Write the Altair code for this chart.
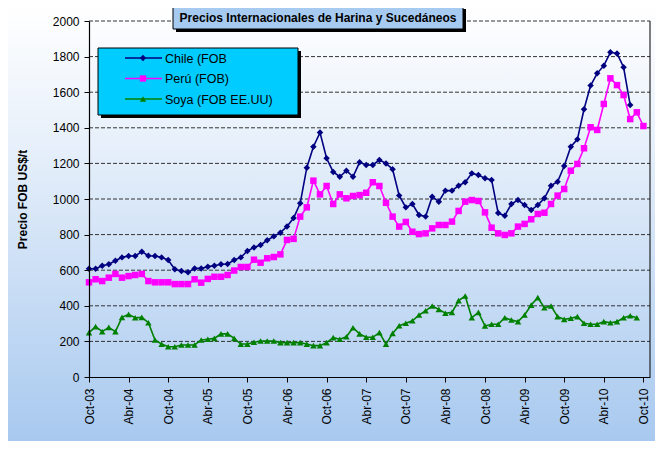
import altair as alt
import pandas as pd

# ---------------- data ----------------
tick_labels = ["Oct-03", "Abr-04", "Oct-04", "Abr-05", "Oct-05", "Abr-06", "Oct-06",
               "Abr-07", "Oct-07", "Abr-08", "Oct-08", "Abr-09", "Oct-09", "Abr-10", "Oct-10"]

series_names = ["Chile (FOB", "Perú (FOB)", "Soya (FOB EE.UU)"]
series_colors = ["#000080", "#ff00ff", "#008000"]
series_shapes = ["diamond", "square", "triangle-up"]

chile = [608, 608, 625, 633, 653, 672, 680, 680, 704, 681, 680, 672, 657, 605, 595, 588,
         610, 610, 620, 625, 633, 635, 657, 672, 708, 728, 742, 768, 790, 811, 846, 893,
         976, 1176, 1294, 1373, 1229, 1152, 1125, 1159, 1125, 1206, 1191, 1191, 1219, 1200,
         1167, 1019, 953, 972, 910, 901, 1013, 985, 1047, 1047, 1075, 1094, 1144, 1135,
         1116, 1107, 921, 906, 972, 994, 966, 938, 966, 1004, 1075, 1097, 1185, 1294, 1335,
         1504, 1637, 1706, 1749, 1824, 1818, 1740, 1528]

peru = [532, 549, 539, 558, 579, 558, 567, 573, 579, 539, 532, 532, 532, 522, 522, 522,
        549, 530, 551, 563, 563, 573, 598, 618, 618, 659, 642, 667, 674, 689, 770, 776,
        901, 953, 1103, 1026, 1073, 972, 1026, 1004, 1017, 1022, 1035, 1094, 1073, 979,
        901, 845, 871, 816, 803, 807, 835, 854, 854, 873, 933, 985, 994, 989, 925, 839,
        807, 798, 807, 845, 860, 886, 916, 923, 972, 1019, 1056, 1159, 1197, 1285, 1403,
        1388, 1534, 1678, 1640, 1584, 1449, 1487, 1410]

soya = [249, 283, 255, 279, 255, 335, 352, 333, 335, 305, 208, 185, 170, 170, 180, 180,
        180, 208, 212, 217, 242, 242, 217, 185, 185, 195, 202, 202, 202, 193, 193, 193,
        193, 185, 176, 176, 193, 221, 212, 226, 277, 242, 223, 223, 249, 184, 245, 288,
        302, 316, 348, 372, 399, 380, 358, 363, 429, 455, 333, 363, 287, 296, 296, 333,
        320, 311, 348, 404, 446, 389, 399, 339, 324, 330, 339, 302, 296, 296, 311, 305,
        311, 333, 344, 333]

y_ticks = list(range(0, 2001, 200))
title_text = "Precios Internacionales de Harina y Sucedáneos"

rows = []
for name, vals in zip(series_names, [chile, peru, soya]):
    for i, v in enumerate(vals):
        rows.append({"serie": name, "mes": i, "precio": v})
df = pd.DataFrame(rows)

# ---------------- layout ----------------
FONT = "Liberation Sans"
W, H = 561, 356
PAD = {"left": 81, "top": 13, "right": 5, "bottom": 64}

label_js = "[" + ",".join("'" + t + "'" for t in tick_labels) + "]"

x_axis = alt.Axis(values=list(range(0, 85, 6)),
                  labelExpr=label_js + "[round(datum.value/6)]",
                  labelAngle=270, labelPadding=6, tickSize=5,
                  labelOverlap=False,
                  title=None, grid=False, zindex=1)
y_axis = alt.Axis(values=y_ticks, format="d", grid=False, tickSize=5,
                  labelPadding=5, zindex=1, labelOverlap=False,
                  title="Precio FOB US$/t", titleX=-67, titleY=H / 2,
                  titleAngle=270, titleAlign="center",
                  titleBaseline="middle", titleFontWeight="bold",
                  titleFontSize=12)
y_scale = alt.Scale(domain=[0, 2000], nice=False)

x_enc = alt.X("mes:Q", scale=alt.Scale(domain=[0, 85], nice=False, zero=False), axis=x_axis)
y_enc = alt.Y("precio:Q", scale=y_scale, axis=y_axis)
color_enc = alt.Color("serie:N",
                      scale=alt.Scale(domain=series_names, range=series_colors),
                      legend=None)
shape_enc = alt.Shape("serie:N",
                      scale=alt.Scale(domain=series_names, range=series_shapes),
                      legend=None)

one = pd.DataFrame({"a": [0]})

background = alt.Chart(one).mark_rect(
    fill=alt.LinearGradient(gradient="linear",
                            stops=[alt.GradientStop(color="#ffffff", offset=0),
                                   alt.GradientStop(color="#e4eefa", offset=0.35),
                                   alt.GradientStop(color="#a8c9ef", offset=1)],
                            x1=0, x2=0, y1=0, y2=1),
    stroke=None
).encode(x=alt.value(-PAD["left"]), x2=alt.value(W + PAD["right"]),
         y=alt.value(-PAD["top"]), y2=alt.value(H + PAD["bottom"]))

grid = alt.Chart(pd.DataFrame({"precio": y_ticks[1:]})).mark_rule(
    color="#333333", strokeDash=[4, 2], strokeWidth=1
).encode(y=alt.Y("precio:Q", scale=y_scale, axis=y_axis), x=alt.value(0), x2=alt.value(W))

right_edge = alt.Chart(one).mark_rule(color="black", strokeWidth=1).encode(
    x=alt.value(W), y=alt.value(0), y2=alt.value(H))

lines = alt.Chart(df).mark_line(strokeWidth=1.6).encode(
    x=x_enc, y=y_enc, color=color_enc, order="mes:Q")
points = alt.Chart(df).mark_point(filled=True, size=42, opacity=1).encode(
    x=x_enc, y=y_enc, color=color_enc, shape=shape_enc)

# title box
tb_x0, tb_x1, tb_y0, tb_y1 = 84, 374, -15, 8
title_shadow = alt.Chart(one).mark_rect(fill="black").encode(
    x=alt.value(tb_x0 + 3), x2=alt.value(tb_x1 + 3),
    y=alt.value(tb_y0 + 3), y2=alt.value(tb_y1 + 3))
title_box = alt.Chart(one).mark_rect(fill="#a6caf0", stroke="black", strokeWidth=1).encode(
    x=alt.value(tb_x0), x2=alt.value(tb_x1), y=alt.value(tb_y0), y2=alt.value(tb_y1))
title_txt = alt.Chart(pd.DataFrame({"t": [title_text]})).mark_text(
    font=FONT, fontSize=12, fontWeight="bold", color="black",
    align="center", baseline="middle"
).encode(x=alt.value((tb_x0 + tb_x1) / 2), y=alt.value((tb_y0 + tb_y1) / 2 + 0.5),
         text="t:N")

# legend box
lg_x0, lg_x1, lg_y0, lg_y1 = 9, 209, 27, 94
leg_shadow = alt.Chart(one).mark_rect(fill="black").encode(
    x=alt.value(lg_x0 + 3), x2=alt.value(lg_x1 + 3),
    y=alt.value(lg_y0 + 3), y2=alt.value(lg_y1 + 3))
leg_box = alt.Chart(one).mark_rect(fill="#00ccff", stroke="black", strokeWidth=1).encode(
    x=alt.value(lg_x0), x2=alt.value(lg_x1), y=alt.value(lg_y0), y2=alt.value(lg_y1))

legend_layers = []
for k, name in enumerate(series_names):
    sub = alt.Chart(pd.DataFrame({"serie": [name]}))
    ly = 37 + k * 20.5
    legend_layers.append(sub.mark_rule(color=series_colors[k], strokeWidth=1.6).encode(
        x=alt.value(36), x2=alt.value(73), y=alt.value(ly)))
    legend_layers.append(sub.mark_point(shape=series_shapes[k], filled=True, size=40,
                                        color=series_colors[k], opacity=1).encode(
        x=alt.value(54), y=alt.value(ly)))
    legend_layers.append(sub.mark_text(font=FONT, fontSize=12.5, color="black",
                                       align="left", baseline="middle").encode(
        x=alt.value(76), y=alt.value(ly + 0.5), text="serie:N"))

chart = alt.layer(
    background, grid, right_edge, lines, points,
    title_shadow, title_box, title_txt,
    leg_shadow, leg_box, *legend_layers
).properties(
    width=W, height=H, padding=PAD,
    autosize=alt.AutoSizeParams(type="none"),
    background="#ffffff"
).configure_view(stroke=None).configure_axis(
    labelFont=FONT, titleFont=FONT, labelFontSize=12, labelColor="black",
    titleColor="black", domainColor="black", tickColor="black",
    domainWidth=1.2, tickWidth=1
)

chart.save("out.html", embed_options={"renderer": "svg", "actions": False})
